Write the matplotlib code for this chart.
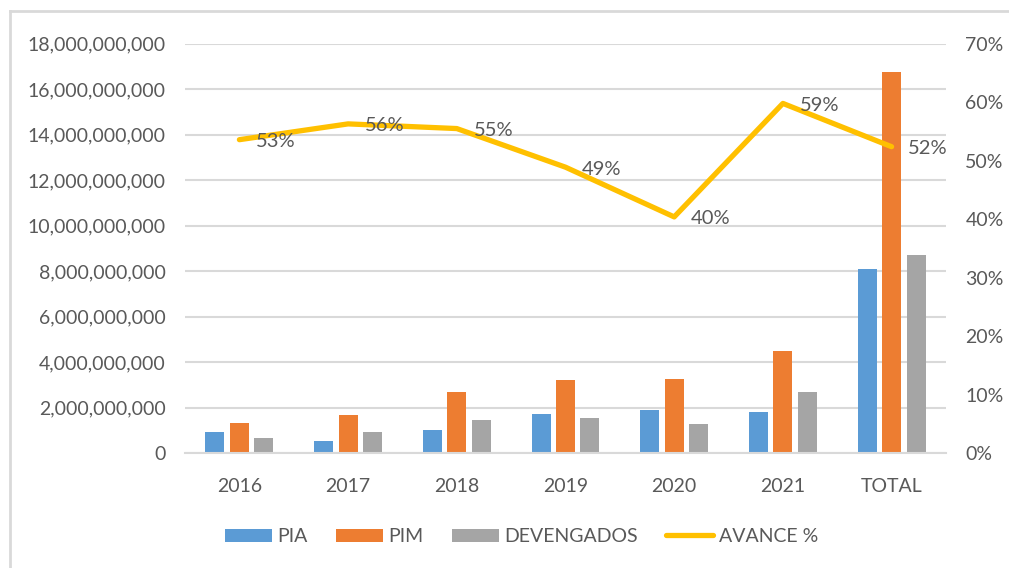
import matplotlib
matplotlib.use("Agg")
import matplotlib.pyplot as plt
from matplotlib.lines import Line2D
from matplotlib.ticker import FuncFormatter, MultipleLocator
import numpy as np

categories = ["2016", "2017", "2018", "2019", "2020", "2021", "TOTAL"]
pia = [0.95e9, 0.55e9, 1.01e9, 1.74e9, 1.90e9, 1.80e9, 8.10e9]
pim = [1.35e9, 1.68e9, 2.69e9, 3.21e9, 3.25e9, 4.50e9, 16.77e9]
devengados = [0.67e9, 0.95e9, 1.46e9, 1.56e9, 1.27e9, 2.68e9, 8.72e9]
avance = [0.536, 0.563, 0.555, 0.489, 0.404, 0.598, 0.524]
avance_labels = ["53%", "56%", "55%", "49%", "40%", "59%", "52%"]

text_color = "#595959"
grid_color = "#D9D9D9"
plt.rcParams["font.family"] = ["Lato", "DejaVu Sans"]

fig = plt.figure(figsize=(10.09, 5.68), dpi=100)
ax = fig.add_axes([0.1834, 0.202, 0.7541, 0.721])
ax2 = ax.twinx()

x = np.arange(len(categories))
w = 0.175
off = 0.225
ax.bar(x - off, pia, w, color="#5B9BD5", label="PIA", zorder=2)
ax.bar(x, pim, w, color="#ED7D31", label="PIM", zorder=2)
ax.bar(x + off, devengados, w, color="#A5A5A5", label="DEVENGADOS", zorder=2)

ax2.plot(x, avance, color="#FFC000", lw=3.8, solid_capstyle="round",
         solid_joinstyle="round", label="AVANCE %", zorder=3)
for xi, yi, lab in zip(x, avance, avance_labels):
    ax2.annotate(lab, (xi, yi), xytext=(12, -1.5), textcoords="offset points",
                 ha="left", va="center", fontsize=14.5, color=text_color)

ax.set_xlim(-0.5, len(categories) - 0.5)
ax.set_ylim(0, 18e9)
ax2.set_ylim(0, 0.7)
ax.yaxis.set_major_locator(MultipleLocator(2e9))
ax2.yaxis.set_major_locator(MultipleLocator(0.1))
ax.yaxis.set_major_formatter(FuncFormatter(lambda v, p: f"{v:,.0f}"))
ax2.yaxis.set_major_formatter(FuncFormatter(lambda v, p: f"{v * 100:.0f}%"))
ax.set_xticks(x)
ax.set_xticklabels(categories)

ax.grid(axis="y", color=grid_color, lw=1.5, zorder=0)
ax.set_axisbelow(True)
for a in (ax, ax2):
    for s in a.spines.values():
        s.set_visible(False)
ax.spines["bottom"].set_visible(True)
ax.spines["bottom"].set_color(grid_color)
ax.spines["bottom"].set_linewidth(1.5)
ax.tick_params(axis="y", length=0, pad=14, labelsize=14, labelcolor=text_color)
ax.tick_params(axis="x", length=0, pad=18, labelsize=14, labelcolor=text_color)
ax2.tick_params(axis="y", length=0, pad=14, labelsize=14, labelcolor=text_color)

h1, l1 = ax.get_legend_handles_labels()
h2, l2 = ax2.get_legend_handles_labels()
fig.legend(h1 + h2, l1 + l2, loc="center", bbox_to_anchor=(0.517, 0.055),
           ncol=4, frameon=False, labelcolor=text_color, fontsize=14,
           handlelength=2.4, handleheight=0.7, handletextpad=0.3,
           columnspacing=1.45)

# light frame of the chart area
fx = 10 / 1009
fy = 1 - 11 / 568
fig.add_artist(Line2D([fx, fx], [0, fy], color=grid_color, lw=2, transform=fig.transFigure))
fig.add_artist(Line2D([fx, 1], [fy, fy], color=grid_color, lw=2, transform=fig.transFigure))

fig.savefig("out.png", dpi=100)
